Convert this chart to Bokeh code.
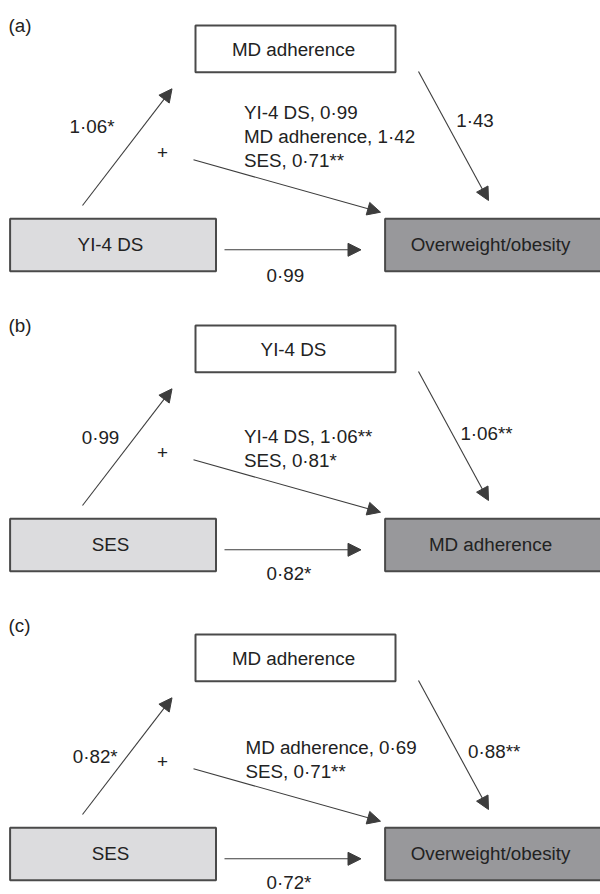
from bokeh.plotting import figure
from bokeh.models import Range1d, ColumnDataSource, Arrow, NormalHead
from bokeh.core.properties import value
from bokeh.embed import file_html
from bokeh.resources import INLINE

# ---------------- data ----------------
panel_labels = ["(a)", "(b)", "(c)"]
top_nodes = ["MD adherence", "YI-4 DS", "MD adherence"]
left_nodes = ["YI-4 DS", "SES", "SES"]
right_nodes = ["Overweight/obesity", "MD adherence", "Overweight/obesity"]
path_a = ["1\u00b706*", "0\u00b799", "0\u00b782*"]
path_b = ["1\u00b743", "1\u00b706**", "0\u00b788**"]
direct = ["0\u00b799", "0\u00b782*", "0\u00b772*"]
joint = [
    ["YI-4 DS, 0\u00b799", "MD adherence, 1\u00b742", "SES, 0\u00b771**"],
    ["YI-4 DS, 1\u00b706**", "SES, 0\u00b781*"],
    ["MD adherence, 0\u00b769", "SES, 0\u00b771**"],
]

# ---------------- layout ----------------
panel_top = [25, 325, 634]
letter_y = [25, 325, 625]
pa_x = [91.5, 100, 94.7]
pa_y = [126, 436.7, 756]
pb_x = [474.5, 486, 493.7]
pb_y = [120, 432.7, 751]
dir_y = [275, 573.3, 882]
joint_x = [243.4, 243.4, 245]
joint_last_y = [160, 460, 771]
line_gap = 24.2

FONT = value("Liberation Sans")
TXT = "#222222"
LINE = "#3d3d3d"
FS = "18.8px"

p = figure(width=600, height=894, output_backend="svg", toolbar_location=None,
           x_range=Range1d(0, 600), y_range=Range1d(894, 0),
           min_border=0, min_border_left=0, min_border_right=0,
           min_border_top=0, min_border_bottom=0)
p.axis.visible = False
p.grid.visible = False
p.outline_line_color = None
p.background_fill_color = "white"
p.border_fill_color = "white"

# boxes
tl, tr, tt, tb = [], [], [], []
ll, lr, lt, lb = [], [], [], []
rl, rr, rt, rb = [], [], [], []
for t in panel_top:
    tl.append(195); tr.append(395); tt.append(t); tb.append(t + 46.7)
    ll.append(9.6); lr.append(215.5); lt.append(t + 193.3); lb.append(t + 245.7)
    rl.append(384.6); rr.append(640); rt.append(t + 193.3); rb.append(t + 245.7)

p.quad(left=tl, right=tr, top=tt, bottom=tb, fill_color="white",
       line_color="#4a4a4a", line_width=2)
p.quad(left=ll, right=lr, top=lt, bottom=lb, fill_color="#dcdcde",
       line_color="#4a4a4a", line_width=2)
p.quad(left=rl, right=rr, top=rt, bottom=rb, fill_color="#98989b",
       line_color="#4a4a4a", line_width=2)

# arrows
xs, ys, xe, ye = [], [], [], []
for t in panel_top:
    for (a, b, c, d) in [(82, 180, 171.5, 63.3), (418, 46, 488, 175),
                         (193, 134.3, 380, 186.7), (224, 224.3, 360.5, 224.3)]:
        xs.append(a); ys.append(t + b); xe.append(c); ye.append(t + d)
asrc = ColumnDataSource(dict(xs=xs, ys=ys, xe=xe, ye=ye))
p.add_layout(Arrow(end=NormalHead(size=13, fill_color=LINE, line_color=LINE, line_width=1),
                   x_start="xs", y_start="ys", x_end="xe", y_end="ye",
                   line_color=LINE, line_width=1.1, source=asrc))

def txt(x, y, t, align="center"):
    p.text(x=x, y=y, text=t, text_font=FONT, text_font_size=FS,
           text_color=TXT, text_align=align, text_baseline="middle")

# node labels
txt([293] * 3, [t + 24 for t in panel_top], top_nodes)
txt([110] * 3, [t + 219 for t in panel_top], left_nodes)
txt([490] * 3, [t + 219 for t in panel_top], right_nodes)

# panel letters
txt([8] * 3, letter_y, panel_labels, align="left")

# coefficients
txt(pa_x, pa_y, path_a)
txt(pb_x, pb_y, path_b)
txt([266] * 3, dir_y, direct, align="left")
txt([162] * 3, [t + 126.7 for t in panel_top], ["+"] * 3)

jx, jy, jt = [], [], []
for i, lines in enumerate(joint):
    n = len(lines)
    for k, s in enumerate(lines):
        jx.append(joint_x[i])
        jy.append(joint_last_y[i] - (n - 1 - k) * line_gap)
        jt.append(s)
txt(jx, jy, jt, align="left")

open("out.html", "w").write(file_html(p, INLINE))
